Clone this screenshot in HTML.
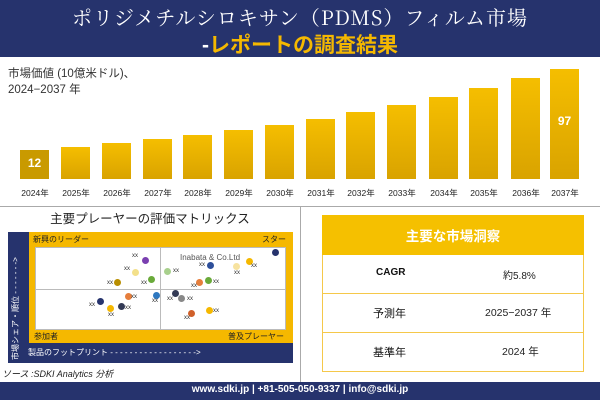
<!DOCTYPE html>
<html><head><meta charset="utf-8"><style>
body{margin:0;width:600px;height:400px;position:relative;background:#fff;font-family:"Liberation Sans","Noto Sans CJK JP",sans-serif;overflow:hidden}
.a{position:absolute}
.bar{position:absolute;width:29px;bottom:221px;background:linear-gradient(#f5be00,#d9a300)}
.yr{position:absolute;top:187px;font-size:8.5px;width:40px;text-align:center;color:#222}
.d{position:absolute;width:7px;height:7px;border-radius:50%}
.x{position:absolute;font-size:6px;color:#333}
</style></head><body>
<div class="a" style="left:0;top:0;width:600px;height:57px;background:#26336d"></div>
<div class="a" style="left:0;top:2px;width:600px;text-align:center;color:#fff;font-size:20px;font-family:'Noto Serif CJK SC',serif;letter-spacing:1px">ポリジメチルシロキサン（PDMS）フィルム市場</div>
<div class="a" style="left:0;top:29px;width:600px;text-align:center;color:#f5b800;font-size:21px;font-weight:bold"><span style="color:#fff">-</span>レポートの調査結果</div>
<div class="a" style="left:8px;top:66px;font-size:11.5px;color:#333;line-height:16px">市場価値 (10億米ドル)、<br>2024−2037 年</div>
<div class="bar" style="left:20px;height:29px;background:#c99a00"></div>
<div class="bar" style="left:61px;height:32px"></div>
<div class="bar" style="left:102px;height:36px"></div>
<div class="bar" style="left:143px;height:40px"></div>
<div class="bar" style="left:183px;height:44px"></div>
<div class="bar" style="left:224px;height:49px"></div>
<div class="bar" style="left:265px;height:54px"></div>
<div class="bar" style="left:306px;height:60px"></div>
<div class="bar" style="left:346px;height:67px"></div>
<div class="bar" style="left:387px;height:74px"></div>
<div class="bar" style="left:429px;height:82px"></div>
<div class="bar" style="left:469px;height:91px"></div>
<div class="bar" style="left:511px;height:101px"></div>
<div class="bar" style="left:550px;height:110px"></div>
<div class="a" style="left:20px;top:156px;width:29px;text-align:center;color:#fff;font-weight:bold;font-size:12px">12</div>
<div class="a" style="left:550px;top:114px;width:29px;text-align:center;color:#fff;font-weight:bold;font-size:12px">97</div>
<div class="yr" style="left:15px">2024年</div><div class="yr" style="left:56px">2025年</div><div class="yr" style="left:97px">2026年</div><div class="yr" style="left:138px">2027年</div><div class="yr" style="left:178px">2028年</div><div class="yr" style="left:219px">2029年</div><div class="yr" style="left:260px">2030年</div><div class="yr" style="left:301px">2031年</div><div class="yr" style="left:341px">2032年</div><div class="yr" style="left:382px">2033年</div><div class="yr" style="left:424px">2034年</div><div class="yr" style="left:464px">2035年</div><div class="yr" style="left:506px">2036年</div><div class="yr" style="left:545px">2037年</div>
<div class="a" style="left:0;top:206px;width:600px;height:1px;background:#aaa"></div>
<div class="a" style="left:300px;top:206px;width:1px;height:176px;background:#aaa"></div>
<div class="a" style="left:0;top:208px;width:300px;text-align:center;font-size:12.5px;color:#222">主要プレーヤーの評価マトリックス</div>
<div class="a" style="left:8px;top:232px;width:285px;height:131px;background:#26336d"></div>
<div class="a" style="left:29px;top:232px;width:264px;height:111px;background:#f5b800"></div>
<div class="a" style="left:35px;top:247px;width:251px;height:83px;background:#fff;border:1px solid #bbb;box-sizing:border-box"></div>
<div class="a" style="left:160px;top:247px;width:1px;height:83px;background:#bbb"></div>
<div class="a" style="left:35px;top:289px;width:251px;height:1px;background:#bbb"></div>
<div class="a" style="left:33px;top:234px;font-size:8px;color:#222">新興のリーダー</div>
<div class="a" style="left:262px;top:234px;font-size:8px;color:#222">スター</div>
<div class="a" style="left:34px;top:331px;font-size:8px;color:#222">参加者</div>
<div class="a" style="left:228px;top:331px;font-size:8px;color:#222">普及プレーヤー</div>
<div class="a" style="left:28px;top:347px;font-size:8px;color:#fff">製品のフットプリント - - - - - - - - - - - - - - - - - -&gt;</div>
<div class="a" style="left:10px;top:360px;font-size:8px;color:#fff;transform:rotate(-90deg);transform-origin:0 0;white-space:nowrap">市場シェア・順位 - - - - - - -&gt;</div>
<div class="a" style="left:180px;top:253px;font-size:8px;color:#555">Inabata &amp; Co.Ltd</div>
<div class="d" style="left:142px;top:257px;background:#7a3fb0"></div>
<div class="d" style="left:132px;top:269px;background:#f3e08a"></div>
<div class="d" style="left:148px;top:276px;background:#6aaa3a"></div>
<div class="d" style="left:114px;top:279px;background:#b88e00"></div>
<div class="d" style="left:125px;top:293px;background:#e67e3c"></div>
<div class="d" style="left:153px;top:292px;background:#2e78c0"></div>
<div class="d" style="left:97px;top:298px;background:#26336d"></div>
<div class="d" style="left:118px;top:303px;background:#333a55"></div>
<div class="d" style="left:107px;top:305px;background:#f5b800"></div>
<div class="d" style="left:164px;top:268px;background:#a8d08d"></div>
<div class="d" style="left:207px;top:262px;background:#2e4f9a"></div>
<div class="d" style="left:233px;top:263px;background:#f7e3a0"></div>
<div class="d" style="left:246px;top:258px;background:#f5b800"></div>
<div class="d" style="left:272px;top:249px;background:#26336d"></div>
<div class="d" style="left:196px;top:279px;background:#e67e3c"></div>
<div class="d" style="left:205px;top:277px;background:#6aaa3a"></div>
<div class="d" style="left:172px;top:290px;background:#333a55"></div>
<div class="d" style="left:178px;top:295px;background:#888"></div>
<div class="d" style="left:188px;top:310px;background:#d0602a"></div>
<div class="d" style="left:206px;top:307px;background:#f5b800"></div>
<div class="x" style="left:132px;top:253px">xx</div><div class="x" style="left:124px;top:266px">xx</div><div class="x" style="left:107px;top:280px">xx</div><div class="x" style="left:141px;top:280px">xx</div><div class="x" style="left:131px;top:294px">xx</div><div class="x" style="left:152px;top:298px">xx</div><div class="x" style="left:89px;top:302px">xx</div><div class="x" style="left:125px;top:305px">xx</div><div class="x" style="left:108px;top:312px">xx</div><div class="x" style="left:173px;top:268px">xx</div><div class="x" style="left:199px;top:262px">xx</div><div class="x" style="left:234px;top:270px">xx</div><div class="x" style="left:251px;top:263px">xx</div><div class="x" style="left:191px;top:283px">xx</div><div class="x" style="left:213px;top:279px">xx</div><div class="x" style="left:167px;top:296px">xx</div><div class="x" style="left:187px;top:296px">xx</div><div class="x" style="left:184px;top:315px">xx</div><div class="x" style="left:213px;top:308px">xx</div>
<div class="a" style="left:2px;top:367px;font-size:9px;font-style:italic;color:#222">ソース :SDKI Analytics 分析</div>
<div class="a" style="left:322px;top:215px;width:262px;height:40px;background:#f5c000"></div>
<div class="a" style="left:322px;top:225px;width:262px;text-align:center;color:#fff;font-size:13.5px;font-weight:bold">主要な市場洞察</div>
<div class="a" style="left:322px;top:255px;width:260px;height:116px;border:1px solid #f5c84a;border-top:none"></div>
<div class="a" style="left:322px;top:293px;width:262px;height:1px;background:#f5c84a"></div>
<div class="a" style="left:322px;top:332px;width:262px;height:1px;background:#f5c84a"></div>
<div class="a" style="left:376px;top:267px;font-size:10px;font-weight:bold;color:#111">CAGR</div>
<div class="a" style="left:503px;top:267px;font-size:10px;color:#222">約5.8%</div>
<div class="a" style="left:373px;top:305px;font-size:11px;color:#111">予測年</div>
<div class="a" style="left:485px;top:305px;font-size:10.5px;color:#222">2025−2037 年</div>
<div class="a" style="left:373px;top:344px;font-size:11px;color:#111">基準年</div>
<div class="a" style="left:502px;top:344px;font-size:10.5px;color:#222">2024 年</div>
<div class="a" style="left:0;top:382px;width:600px;height:18px;background:#26336d"></div>
<div class="a" style="left:0;top:384px;width:600px;text-align:center;color:#fff;font-size:10px;font-weight:bold">www.sdki.jp | +81-505-050-9337 | info@sdki.jp</div>
</body></html>
